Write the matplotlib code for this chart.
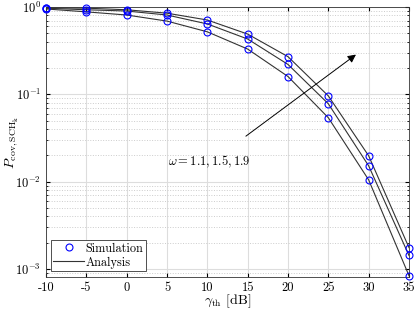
import matplotlib
matplotlib.use("Agg")
import matplotlib.pyplot as plt
import numpy as np

plt.rcParams['font.family'] = 'cmr10'
plt.rcParams['mathtext.fontset'] = 'cm'
plt.rcParams['axes.formatter.use_mathtext'] = True

gamma_th = [-10, -5, 0, 5, 10, 15, 20, 25, 30, 35]
p_w19 = [0.98, 0.97, 0.93, 0.85, 0.71, 0.49, 0.27, 0.096, 0.0198, 0.00176]
p_w15 = [0.97, 0.93, 0.90, 0.81, 0.64, 0.43, 0.22, 0.078, 0.0152, 0.00143]
p_w11 = [0.95, 0.88, 0.81, 0.69, 0.52, 0.33, 0.16, 0.054, 0.0105, 0.00084]

fig = plt.figure(figsize=(4.15, 3.12), dpi=100)
ax = fig.add_axes([0.111, 0.112, 0.8745, 0.8655])

for p in [p_w19, p_w15, p_w11]:
    ax.plot(gamma_th, p, color='#333333', lw=0.8)
    ax.plot(gamma_th, p, 'o', mfc='none', mec='blue', ms=5, mew=0.8, clip_on=False, zorder=5)

ax.set_yscale('log')
ax.set_xlim(-10, 35)
ax.set_ylim(8.1e-4, 1)
ax.set_xticks(np.arange(-10, 36, 5))
ax.set_xticklabels([str(v) for v in range(-10, 36, 5)])

ax.grid(True, which='major', color='#dddddd', lw=0.8)
ax.grid(True, which='minor', axis='y', color='#cccccc', ls=':', lw=0.7)
ax.tick_params(which='both', direction='in', top=True, right=True, labelsize=9)
ax.tick_params(which='major', length=3)
ax.tick_params(which='minor', length=1.5)
for s in ax.spines.values():
    s.set_linewidth(0.6)
    s.set_color('#333333')

ax.set_xlabel(r'$\gamma_{\rm th}$ [dB]', fontsize=10, labelpad=-1)
ax.set_ylabel(r'$P_{\rm cov,SCH_k}$', fontsize=10, labelpad=-3)

ax.annotate('', xy=(28.7, 0.298), xytext=(14.5, 0.0318),
            arrowprops=dict(arrowstyle='-|>', color='black', lw=0.7, mutation_scale=12))
ax.text(5.1, 0.0168, r'$\omega = 1.1, 1.5, 1.9$', fontsize=9, va='center')

h1, = ax.plot([], [], 'o', mfc='none', mec='blue', ms=5, mew=0.8)
h2, = ax.plot([], [], color='#333333', lw=0.8)
leg = ax.legend([h1, h2], ['Simulation', 'Analysis'], loc='lower left',
                bbox_to_anchor=(0.013, 0.022), fontsize=8.8, fancybox=False,
                edgecolor='#333333', framealpha=1, borderpad=0.2,
                handlelength=2.5, handletextpad=0.15, labelspacing=0.15,
                borderaxespad=0)
leg.get_frame().set_linewidth(0.6)

fig.savefig('out.png', dpi=100)
